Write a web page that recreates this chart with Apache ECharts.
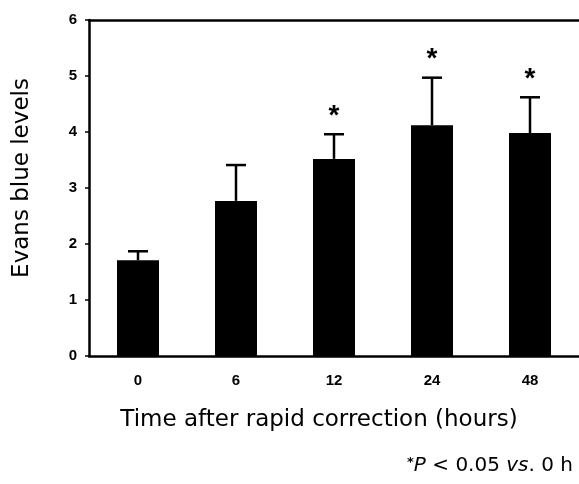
<!DOCTYPE html>
<html>
<head>
<meta charset="utf-8">
<script src="https://cdn.jsdelivr.net/npm/echarts@6/dist/echarts.min.js"></script>
<style>
html,body{margin:0;padding:0;background:#fff;}
#c{width:579px;height:484px;}
</style>
</head>
<body>
<div id="c"></div>
<script>
var categories = ['0', '6', '12', '24', '48'];
var means = [1.71, 2.77, 3.52, 4.12, 3.98];
var errors = [0.16, 0.64, 0.44, 0.85, 0.64];
var significant = [false, false, true, true, true];
var yTicks = [0, 1, 2, 3, 4, 5, 6];

var chart = echarts.init(document.getElementById('c'), null, {renderer: 'canvas'});
var errData = means.map(function (m, i) { return [i, m, m + errors[i], significant[i] ? 1 : 0]; });
var TF = 'DejaVu Sans, Verdana, sans-serif';
var LF = 'Liberation Sans, Arial, sans-serif';

chart.setOption({
  animation: false,
  backgroundColor: '#fff',
  grid: {left: 89, right: -4, top: 20, bottom: 128, containLabel: false},
  xAxis: [{
    type: 'category',
    data: categories,
    position: 'bottom',
    axisLine: {lineStyle: {color: '#000', width: 2.5}},
    axisTick: {show: false},
    axisLabel: {color: '#000', fontFamily: LF, fontWeight: 'bold', fontSize: 15, margin: 17},
    name: 'Time after rapid correction (hours)',
    nameLocation: 'middle',
    nameGap: 53,
    nameTextStyle: {color: '#000', fontFamily: TF, fontSize: 23, padding: [0, 30, 0, 0]}
  }, {
    type: 'category',
    data: categories,
    position: 'top',
    axisLine: {show: true, lineStyle: {color: '#000', width: 2.5}},
    axisTick: {show: false},
    axisLabel: {show: false}
  }],
  yAxis: {
    type: 'value',
    min: yTicks[0],
    max: yTicks[yTicks.length - 1],
    interval: 1,
    axisLine: {show: true, lineStyle: {color: '#000', width: 2.5}},
    axisTick: {show: true, length: 4, lineStyle: {color: '#000', width: 1.5}},
    splitLine: {show: false},
    axisLabel: {color: '#000', fontFamily: LF, fontWeight: 'bold', fontSize: 15, margin: 12}
  },
  graphic: [{
    type: 'text',
    x: 22,
    y: 178,
    rotation: Math.PI / 2,
    style: {text: 'Evans blue levels', align: 'center', verticalAlign: 'middle', fontFamily: TF, fontSize: 23, fill: '#000'}
  }, {
    type: 'text',
    right: 6,
    top: 456,
    style: {
      rich: {
        s: {fontSize: 13, fontFamily: TF, fontWeight: 'bold', fill: '#000', verticalAlign: 'top', padding: [0, 0, 6, 0]},
        i: {fontSize: 20, fontFamily: TF, fontStyle: 'italic', fill: '#000'},
        n: {fontSize: 20, fontFamily: TF, fill: '#000'}
      },
      text: '{s|*}{i|P}{n| < 0.05 }{i|vs}{n|. 0 h}'
    }
  }],
  series: [{
    type: 'bar',
    data: means,
    barWidth: 42,
    itemStyle: {color: '#000'},
    xAxisIndex: 0
  }, {
    type: 'custom',
    data: errData,
    xAxisIndex: 0,
    z: 3,
    renderItem: function (params, api) {
      var x = api.value(0);
      var lo = api.coord([x, api.value(1)]);
      var hi = api.coord([x, api.value(2)]);
      var half = 10;
      var children = [
        {type: 'line', shape: {x1: lo[0], y1: lo[1], x2: hi[0], y2: hi[1]}, style: {stroke: '#000', lineWidth: 2.5}},
        {type: 'line', shape: {x1: hi[0] - half, y1: hi[1], x2: hi[0] + half, y2: hi[1]}, style: {stroke: '#000', lineWidth: 2.5}}
      ];
      if (api.value(3)) {
        children.push({type: 'text', style: {text: '*', x: hi[0], y: hi[1] - 32, align: 'center', verticalAlign: 'top', fontSize: 28, fontWeight: 'bold', fontFamily: LF, fill: '#000'}});
      }
      return {type: 'group', children: children};
    }
  }]
});
</script>
</body>
</html>
